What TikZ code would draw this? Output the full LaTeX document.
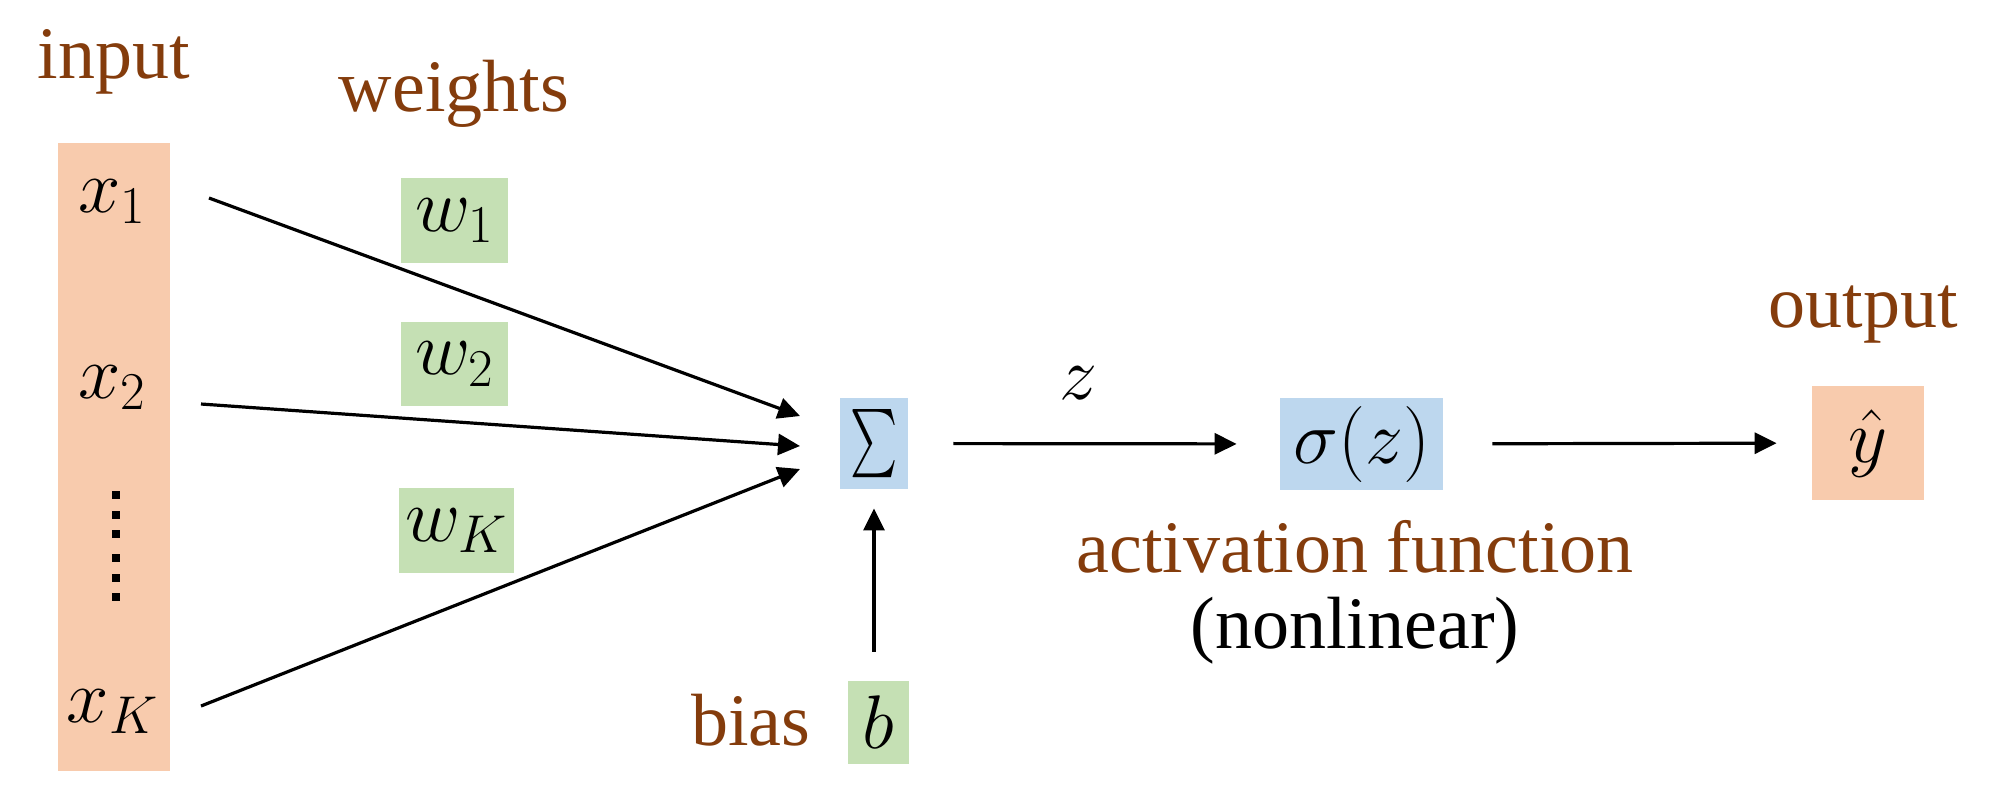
\RequirePackage{fix-cm}
\documentclass[tikz,border=0pt]{standalone}
\usepackage{exscale}
\usepackage{fontspec}
\setmainfont{Liberation Serif}
\usepackage{graphicx}
\usetikzlibrary{arrows.meta}
\definecolor{boxorange}{HTML}{F8CBAD}
\definecolor{boxgreen}{HTML}{C5E0B4}
\definecolor{boxblue}{HTML}{BDD7EE}
\definecolor{labbrown}{HTML}{843C0C}
\begin{document}
\begin{tikzpicture}[x=0.5pt,y=-0.5pt,
  obox/.style={fill=boxorange, inner sep=0pt},
  gbox/.style={fill=boxgreen, inner sep=0pt, font=\fontsize{38}{46}\selectfont},
  bbox/.style={fill=boxblue, inner sep=0pt, font=\fontsize{38}{46}\selectfont},
  lab/.style={text=labbrown, font=\fontsize{37}{44}\selectfont, anchor=base, inner sep=0pt},
  mth/.style={font=\fontsize{38}{46}\selectfont, anchor=base, inner sep=0pt},
  conn/.style={line width=1.6pt, -{Triangle[length=11pt,width=10.5pt]}}]
\useasboundingbox (0,0) rectangle (2000,811);
\fill[white] (0,0) rectangle (2000,811);

% input column
\node[obox, minimum width=56pt, minimum height=314pt] (inp) at (114,457) {};
\node[mth] (x1) at (112.5,212) {$x_1$};
\node[mth] (x2) at (112.5,398) {$x_2$};
\node[mth] (xK) at (112.5,722) {$x_K$};
\foreach \yy in {495,515,534,558,578,597}
  \fill (112,\yy-4) rectangle (120,\yy+4);

% labels
\node[lab] (inlab) at (114,78) {input};
\node[lab] (wlab) at (454,111) {weights};
\node[lab] (outlab) at (1863,327) {output};
\node[lab] (biaslab) at (751,745) {bias};
\node[lab] (act) at (1355,572) {activation function};
\node[lab, text=black] (nl) at (1355,648) {(nonlinear)};

% weights
\node[gbox, minimum width=53.5pt, minimum height=42.5pt] (w1) at (454.5,220.5) {$w_1$};
\node[gbox, minimum width=53.5pt, minimum height=42pt] (w2) at (454.5,364) {$w_2$};
\node[gbox, minimum width=57.5pt, minimum height=42.5pt] (wK) at (456.5,530.5) {$w_K$};

% main boxes
\node[bbox, minimum width=34pt, minimum height=45.5pt] (sum) at (874,443.5) {\scalebox{0.9}[1.37]{$\textstyle\sum$}};
\node[bbox, minimum width=81.5pt, minimum height=46pt] (sig) at (1361.5,444) {$\sigma(z)$};
\node[obox, minimum width=56pt, minimum height=57pt, font=\fontsize{38}{46}\selectfont] (yhat) at (1868,443) {$\hat{y}$};
\node[gbox, minimum width=30.5pt, minimum height=41.5pt] (b) at (878.5,722.5) {$b$};
\node[mth] (zlab) at (1078,399) {$z$};

% connectors
\coordinate (s1) at (209,198);
\coordinate (s2) at (201,404);
\coordinate (sK) at (201,706);
\coordinate (e1) at (800,416);
\coordinate (e2) at (800,446);
\coordinate (eK) at (800,469);
\draw[conn] (s1) -- (e1);
\draw[conn] (s2) -- (e2);
\draw[conn] (sK) -- (eK);
\draw[conn, shorten <=22.5pt, shorten >=21.5pt] (sum) -- (sig);
\draw[conn, shorten <=24.5pt, shorten >=17.5pt] (sig) -- (yhat);
\draw[conn, shorten <=14.5pt, shorten >=9.5pt] (sum.south |- b.north) -- (sum.south);
\end{tikzpicture}
\end{document}
